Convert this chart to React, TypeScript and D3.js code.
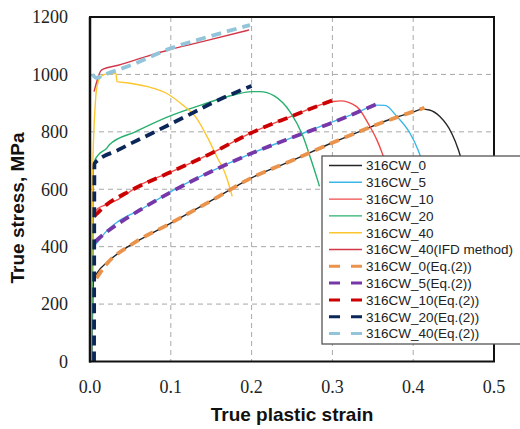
import React from "react";
import * as d3 from "d3";

type Pt = [number, number];

// Experimental curves (true plastic strain, true stress MPa)
const cw0: Pt[] = [[0.002,0],[0.0045,285],[0.008,305],[0.0227,349],[0.0476,401],[0.0767,447],[0.1,482],[0.15,560],[0.2,640],[0.25,700],[0.3,762],[0.338,806],[0.37,842],[0.4,869],[0.411,879],[0.42,876],[0.433,853],[0.4476,795],[0.456,737],[0.462,680]];
const cw5: Pt[] = [[0.002,0],[0.004,395],[0.01,418],[0.0207,455],[0.035,488],[0.062,528],[0.1,592],[0.145,656],[0.2,725],[0.25,780],[0.3,835],[0.33,866],[0.355,893],[0.365,892],[0.38,853],[0.396,795],[0.406,737],[0.412,690]];
const cw10: Pt[] = [[0.002,0],[0.004,510],[0.0103,534],[0.0186,545],[0.035,565],[0.062,615],[0.1,660],[0.15,725],[0.2,797],[0.25,855],[0.3,905],[0.31,908],[0.33,888],[0.3465,818],[0.355,772],[0.361,731],[0.366,690]];
const cw20: Pt[] = [[0.002,0],[0.004,660],[0.006,700],[0.0103,720],[0.0207,743],[0.024,755],[0.056,800],[0.097,853],[0.139,895],[0.18,930],[0.2,940],[0.21,940],[0.228,925],[0.248,868],[0.263,789],[0.273,708],[0.281,638],[0.284,610]];
const cw40: Pt[] = [[0.001,0],[0.003,600],[0.005,820],[0.006,873],[0.008,946],[0.012,986],[0.019,1001],[0.032,1004],[0.0335,975],[0.0476,970],[0.0767,953],[0.0973,930],[0.114,895],[0.1305,853],[0.147,772],[0.159,702],[0.1636,679],[0.17,633],[0.176,575]];
const ifd40: Pt[] = [[0.005,940],[0.0145,1016],[0.035,1032],[0.068,1061],[0.097,1085],[0.139,1114],[0.197,1155]];

// Eq.(2) fits
const eq0: Pt[] = [[0.008,290],[0.02,338],[0.05,405],[0.1,482],[0.15,560],[0.2,640],[0.25,700],[0.3,762],[0.35,820],[0.414,884]];
const eq5: Pt[] = [[0.006,417],[0.0186,447],[0.035,480],[0.062,528],[0.1,590],[0.145,655],[0.2,725],[0.25,780],[0.3,832],[0.359,902]];
const eq10: Pt[] = [[0.005,505],[0.02,545],[0.05,595],[0.1,660],[0.15,725],[0.2,797],[0.25,855],[0.3,910]];
const eq20: Pt[] = [[0.005,0],[0.0055,690],[0.035,737],[0.0767,795],[0.118,853],[0.159,911],[0.2,960]];
const eq40: Pt[] = [[0.003,1000],[0.008,988],[0.019,1000],[0.056,1038],[0.097,1088],[0.139,1125],[0.198,1172]];

const xTicks = [0, 0.1, 0.2, 0.3, 0.4, 0.5];
const yTicks = [0, 200, 400, 600, 800, 1000, 1200];

const solidSeries = [
  { name: "316CW_0", data: cw0, color: "#262626" },
  { name: "316CW_5", data: cw5, color: "#3cb6e8" },
  { name: "316CW_10", data: cw10, color: "#f04a4a" },
  { name: "316CW_20", data: cw20, color: "#27b06e" },
  { name: "316CW_40", data: cw40, color: "#fcc62e" },
  { name: "316CW_40(IFD method)", data: ifd40, color: "#d2384a" },
];
const dashedSeries = [
  { name: "316CW_0(Eq.(2))", data: eq0, color: "#e9934c" },
  { name: "316CW_5(Eq.(2))", data: eq5, color: "#7638a8" },
  { name: "316CW_10(Eq.(2))", data: eq10, color: "#cc0000" },
  { name: "316CW_20(Eq.(2))", data: eq20, color: "#0b2659" },
  { name: "316CW_40(Eq.(2))", data: eq40, color: "#93c5da" },
];

const serif = "Liberation Serif, DejaVu Serif, Times New Roman, serif";
const sans = "Liberation Sans, Arial, sans-serif";

export default function App() {
  const W = 520, H = 429;
  const x = d3.scaleLinear().domain([0, 0.5]).range([90, 494]);
  const y = d3.scaleLinear().domain([0, 1200]).range([361.5, 17]);
  const line = d3.line<Pt>().x(d => x(d[0])).y(d => y(d[1])).curve(d3.curveMonotoneX);
  const grid = "#a8a8a8";
  const legendItems = [...solidSeries.map(s => ({ ...s, dashed: false })), ...dashedSeries.map(s => ({ ...s, dashed: true }))];
  const lx = 322, ly = 156, rowH = 16.8;
  return (
    <svg width={W} height={H} style={{ position: "absolute", left: 0, top: 0, background: "#fff" }}>
      <rect x={0} y={0} width={W} height={H} fill="#fff" />
      {xTicks.slice(1, -1).map(t => (
        <line key={"gx" + t} x1={x(t)} x2={x(t)} y1={y(1200)} y2={y(0)} stroke={grid} strokeWidth={1} strokeDasharray="5,4" />
      ))}
      {yTicks.slice(1, -1).map(t => (
        <line key={"gy" + t} x1={x(0)} x2={x(0.5)} y1={y(t)} y2={y(t)} stroke={grid} strokeWidth={1} strokeDasharray="5,4" />
      ))}
      {solidSeries.map(s => (
        <path key={s.name} d={line(s.data) || ""} fill="none" stroke={s.color} strokeWidth={1.4} />
      ))}
      {dashedSeries.map(s => (
        <path key={s.name} d={line(s.data) || ""} fill="none" stroke={s.color} strokeWidth={3.8} strokeDasharray="10,6" />
      ))}
      <rect x={x(0)} y={y(1200)} width={x(0.5) - x(0)} height={y(0) - y(1200)} fill="none" stroke="#111" strokeWidth={2} />
      <line x1={x(0)} x2={x(0)} y1={y(1200)} y2={y(0) + 1} stroke="#111" strokeWidth={2.5} />
      {xTicks.map(t => (
        <text key={"tx" + t} x={x(t)} y={393} textAnchor="middle" fontFamily={serif} fontSize={18} fill="#222">{t.toFixed(1)}</text>
      ))}
      {yTicks.map(t => (
        <text key={"ty" + t} x={68} y={y(t)} dy="0.35em" textAnchor="end" fontFamily={serif} fontSize={18} fill="#222">{t}</text>
      ))}
      <text x={292} y={421} textAnchor="middle" fontFamily={sans} fontWeight="bold" fontSize={19} fill="#111">True plastic strain</text>
      <text transform="translate(19,208) rotate(-90)" textAnchor="middle" dominantBaseline="middle" fontFamily={sans} fontWeight="bold" fontSize={19} fill="#111">True stress, MPa</text>
      <rect x={lx} y={ly} width={210} height={188} fill="#fff" stroke="#555" strokeWidth={1.3} />
      {legendItems.map((s, i) => {
        const yy = ly + 9.5 + i * rowH;
        return (
          <g key={"lg" + s.name}>
            {s.dashed ? (
              <line x1={329} x2={362} y1={yy} y2={yy} stroke={s.color} strokeWidth={3} strokeDasharray="11,11" />
            ) : (
              <line x1={329} x2={362} y1={yy} y2={yy} stroke={s.color} strokeWidth={1.4} />
            )}
            <text x={366} y={yy} dy="0.36em" fontFamily={sans} fontSize={13.5} fill="#222">{s.name}</text>
          </g>
        );
      })}
    </svg>
  );
}
